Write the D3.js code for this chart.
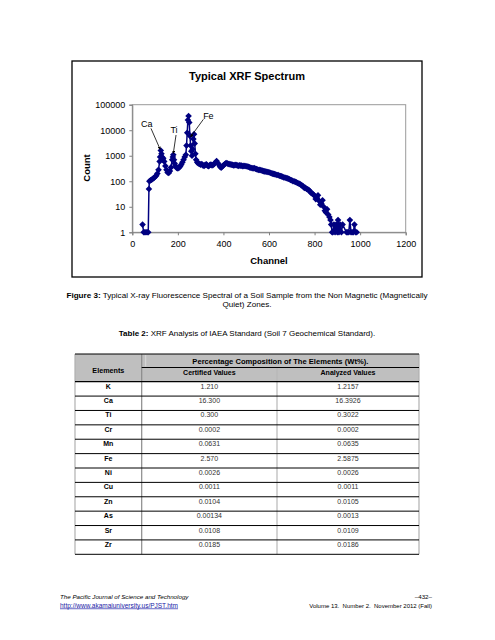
<!DOCTYPE html>
<html><head><meta charset="utf-8">
<script src="https://cdn.jsdelivr.net/npm/d3@7"></script>
<style>
body{margin:0;background:#fff}
svg{display:block;font-family:Arial,"Liberation Sans",sans-serif}
</style></head>
<body><svg id="c" width="495" height="640"></svg>
<script>
// ---------- chart data ----------
const channels = [45,50,55,60,65,70,73,75,80,85,90,95,100,105,110,115,120,122,125,128,130,133,136,140,145,150,155,160,165,170,175,178,180,183,186,190,195,200,205,210,215,220,225,230,235,238,241,244,247,250,253,256,259,262,265,268,271,274,277,280,285,290,295,
300,305,310,315,320,325,330,335,340,345,350,355,360,365,370,375,380,385,390,395,400,405,410,415,420,425,430,435,440,445,450,455,460,465,470,475,480,485,490,495,500,505,510,515,520,525,530,535,540,545,550,555,560,565,570,575,580,585,590,595,600,605,610,615,620,625,630,635,640,645,650,655,660,665,670,675,680,685,690,695,700,705,710,715,720,725,730,735,740,745,750,755,760,765,770,775,780,785,790,795,800,805,810,815,820,825,830,835,840,845,850,855,
860,865,870,873,877,880,885,890,895,900,903,907,912,918,923,940,945,950,955,960,965,970,975,980,985];
const counts = [2,1,1,1,1,1,50,100,110,115,125,135,150,165,200,280,600,900,1600,1200,900,700,800,600,400,280,220,210,250,350,700,900,1100,700,500,400,330,320,340,380,450,550,700,900,1100,2500,8000,25000,36000,20000,6000,2500,1500,1000,1800,4500,7000,3000,1200,700,550,500,480,
450,470,420,400,440,460,410,390,430,450,420,440,480,540,620,520,450,370,340,380,420,460,500,520,480,470,460,450,440,420,430,440,420,400,420,410,410,390,400,395,390,380,370,350,340,330,320,330,310,300,290,275,280,270,260,250,245,240,235,230,225,215,205,200,195,190,185,175,175,165,160,155,150,140,140,135,130,125,120,112,110,100,100,95,92,85,82,80,72,68,64,55,56,50,48,45,40,35,33,30,27,20,22,28,17,12,13,18,10,7,6,8,5,
4,3,2,1,1,2,1,2,1,3,1,2,1,2,1,1,1,3,1,1,1,2,1,1,1];
const xTicks = [0,200,400,600,800,1000,1200];
const yTicks = [1,10,100,1000,10000,100000];
const peakNames = ["Ca","Ti","Fe"];
const peakTipChannel = [122,180,256];
const peakTipCount = [1800,1240,5500];
const peakLineChannel = [82,192,312];
const peakLineCount = [11800,6500,26700];
const peakLabelChannel = [63,183,334];
const peakLabelCount = [17000,10000,36000];

// ---------- table data ----------
const elements = ["K","Ca","Ti","Cr","Mn","Fe","Ni","Cu","Zn","As","Sr","Zr"];
const certified = ["1.210","16.300","0.300","0.0002","0.0631","2.570","0.0026","0.0011","0.0104","0.00134","0.0108","0.0185"];
const analyzed = ["1.2157","16.3926","0.3022","0.0002","0.0635","2.5875","0.0026","0.0011","0.0105","0.0013","0.0109","0.0186"];

const svg = d3.select("#c");
const navy = "#000080";

// chart frame
svg.append("rect").attr("x",72).attr("y",61).attr("width",350).attr("height",216)
  .attr("fill","#fff").attr("stroke","#000").attr("stroke-width",1.3);
svg.append("text").attr("x",247).attr("y",80).attr("text-anchor","middle")
  .attr("font-size",11).attr("font-weight","bold").text("Typical XRF Spectrum");

const x = d3.scaleLinear().domain([0,1200]).range([132.3,405.7]);
const y = d3.scaleLog().domain([1,100000]).range([232.3,104.7]);

svg.append("rect").attr("x",x(0)).attr("y",y(100000)).attr("width",x(1200)-x(0)).attr("height",y(1)-y(100000))
  .attr("fill","none").attr("stroke","#9a9a9a").attr("stroke-width",1);

const xAxis = svg.append("g").attr("transform",`translate(0,${y(1)})`)
  .call(d3.axisBottom(x).tickValues(xTicks).tickSize(3).tickPadding(5).tickFormat(d3.format("d")));
const yAxis = svg.append("g").attr("transform",`translate(${x(0)},0)`)
  .call(d3.axisLeft(y).tickValues(yTicks).tickSize(3).tickPadding(4).tickFormat(d3.format("d")));
[xAxis,yAxis].forEach(a=>{
  a.select(".domain").attr("stroke","#808080");
  a.selectAll(".tick line").attr("stroke","#808080");
  a.selectAll("text").attr("font-size",9).attr("fill","#000").attr("font-family","Arial,'Liberation Sans',sans-serif");
});

svg.append("text").attr("x",269).attr("y",264).attr("text-anchor","middle")
  .attr("font-size",9.5).attr("font-weight","bold").text("Channel");
svg.append("text").attr("transform","translate(90,168) rotate(-90)").attr("text-anchor","middle")
  .attr("font-size",9.5).attr("font-weight","bold").text("Count");

// data
const pts = channels.map((c,i)=>[c,counts[i]]);
svg.append("path").datum(pts)
  .attr("d",d3.line().x(d=>x(d[0])).y(d=>y(d[1])))
  .attr("fill","none").attr("stroke",navy).attr("stroke-width",1.5);
const r = 3.3;
svg.append("g").selectAll("path").data(pts).join("path")
  .attr("transform",d=>`translate(${x(d[0])},${y(d[1])})`)
  .attr("d",`M0,${-r}L${r},0L0,${r}L${-r},0Z`).attr("fill",navy);

// annotations
svg.append("defs").append("marker").attr("id","ah").attr("viewBox","0 0 6 6")
  .attr("refX",5).attr("refY",3).attr("markerWidth",4).attr("markerHeight",4).attr("orient","auto")
  .append("path").attr("d","M0,0L6,3L0,6Z").attr("fill","#000");
peakNames.forEach((n,i)=>{
  svg.append("line").attr("x1",x(peakLineChannel[i])).attr("y1",y(peakLineCount[i]))
    .attr("x2",x(peakTipChannel[i])).attr("y2",y(peakTipCount[i]))
    .attr("stroke","#000").attr("stroke-width",0.8).attr("marker-end","url(#ah)");
  svg.append("text").attr("x",x(peakLabelChannel[i])).attr("y",y(peakLabelCount[i])).attr("dy","0.35em")
    .attr("text-anchor","middle").attr("font-size",9).text(n);
});

// caption
const cap = svg.append("text").attr("x",247).attr("y",298).attr("text-anchor","middle").attr("font-size",8.1);
cap.append("tspan").attr("font-weight","bold").text("Figure 3:");
cap.append("tspan").text(" Typical X-ray Fluorescence Spectral of a Soil Sample from the Non Magnetic (Magnetically");
svg.append("text").attr("x",247).attr("y",306.5).attr("text-anchor","middle").attr("font-size",8.1).text("Quiet) Zones.");

const tcap = svg.append("text").attr("x",247).attr("y",335.5).attr("text-anchor","middle").attr("font-size",8);
tcap.append("tspan").attr("font-weight","bold").text("Table 2:");
tcap.append("tspan").text(" XRF Analysis of IAEA Standard (Soil 7 Geochemical Standard).");

// table
const tL = 75, tR = 419, c1 = 141.7, c2 = 277;
const hTop = 354, hMid = 367.5, hBot = 381.7, tBot = 554.3;
svg.append("rect").attr("x",tL).attr("y",hTop).attr("width",tR-tL).attr("height",hBot-hTop).attr("fill","#bfbfbf");
const rows = d3.scaleBand().domain(elements).range([hBot,tBot]);
[[tL,hTop,tBot,"#b0b0b0"],[tR,hTop,tBot,"#b0b0b0"],[c1,hTop,tBot,"#8a8a8a"],[c2,hMid,tBot,"#b8b8b8"]].forEach(v=>{
  svg.append("line").attr("x1",v[0]).attr("x2",v[0]).attr("y1",v[1]).attr("y2",v[2]).attr("stroke",v[3]).attr("stroke-width",1.2);
});
svg.append("line").attr("x1",c1+4).attr("x2",c1+4).attr("y1",hTop+1).attr("y2",hMid-1).attr("stroke","#e0e0e0").attr("stroke-width",0.8);
svg.append("line").attr("x1",tL).attr("x2",tR).attr("y1",hTop).attr("y2",hTop).attr("stroke","#000").attr("stroke-width",1);
svg.append("line").attr("x1",c1).attr("x2",tR).attr("y1",hMid).attr("y2",hMid).attr("stroke","#000").attr("stroke-width",1);
svg.append("line").attr("x1",tL).attr("x2",tR).attr("y1",hBot).attr("y2",hBot).attr("stroke","#000").attr("stroke-width",1.2);
elements.forEach(e=>{
  const yb = rows(e)+rows.bandwidth();
  svg.append("line").attr("x1",tL).attr("x2",tR).attr("y1",yb).attr("y2",yb).attr("stroke","#000").attr("stroke-width",1);
});
svg.append("text").attr("x",(tL+c1)/2).attr("y",372.5).attr("text-anchor","middle").attr("font-size",7.2).attr("font-weight","bold").text("Elements");
svg.append("text").attr("x",(c1+tR)/2).attr("y",364.3).attr("text-anchor","middle").attr("font-size",7.6).attr("font-weight","bold").text("Percentage Composition of The Elements (Wt%).");
svg.append("text").attr("x",(c1+c2)/2).attr("y",375).attr("text-anchor","middle").attr("font-size",7).attr("font-weight","bold").text("Certified Values");
svg.append("text").attr("x",(c2+tR)/2).attr("y",375).attr("text-anchor","middle").attr("font-size",7).attr("font-weight","bold").text("Analyzed Values");
const body = svg.append("g").attr("font-size",7);
elements.forEach((e,i)=>{
  const yb = rows(e)+7;
  body.append("text").attr("x",(tL+c1)/2).attr("y",yb).attr("text-anchor","middle").attr("font-weight","bold").text(e);
  body.append("text").attr("x",(c1+c2)/2).attr("y",yb).attr("text-anchor","middle").attr("fill","#333").text(certified[i]);
  body.append("text").attr("x",(c2+tR)/2).attr("y",yb).attr("text-anchor","middle").attr("fill","#333").text(analyzed[i]);
});

// footer
svg.append("text").attr("x",60).attr("y",599).attr("font-size",6.2).attr("font-style","italic").text("The Pacific Journal of Science and Technology");
svg.append("text").attr("x",60).attr("y",607.5).attr("font-size",6.5).attr("fill","#1a1aa6").attr("text-decoration","underline").text("http://www.akamaiuniversity.us/PJST.htm");
svg.append("text").attr("x",432).attr("y",599).attr("font-size",6.2).attr("text-anchor","end").text("\u2013432\u2013");
svg.append("text").attr("x",432).attr("y",607.5).attr("font-size",6).attr("text-anchor","end").attr("xml:space","preserve").text("Volume 13.  Number 2.  November 2012 (Fall)");
</script></body></html>
